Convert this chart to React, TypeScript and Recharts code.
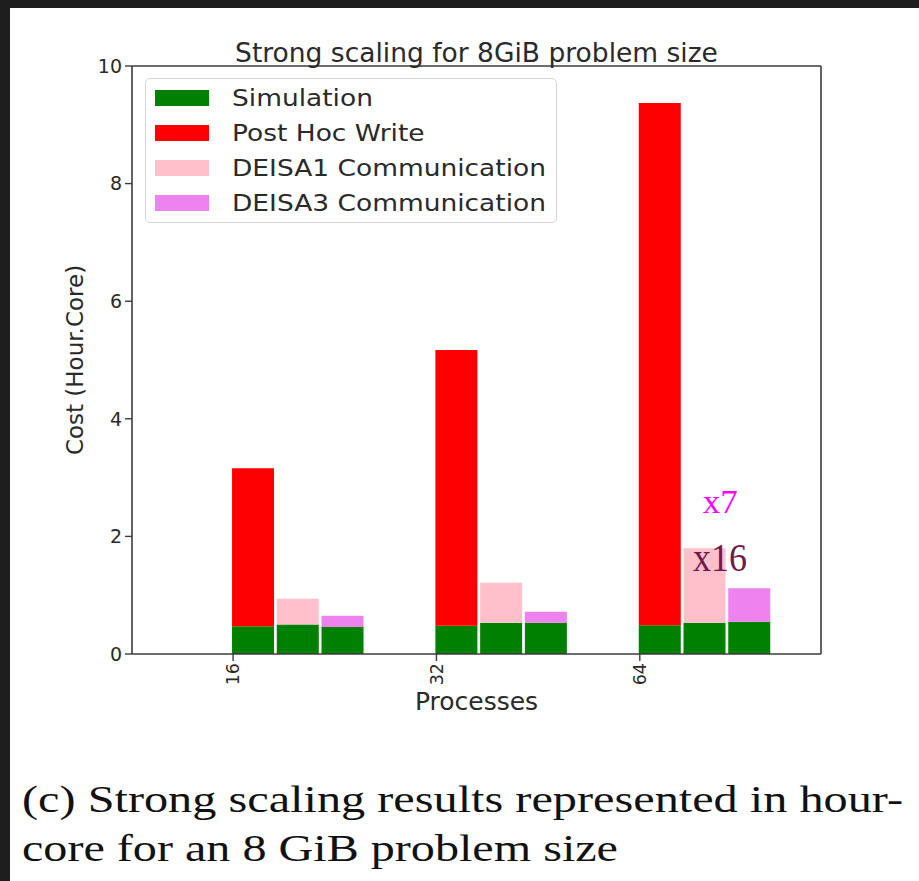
import React from "react";
import {
  BarChart,
  Bar,
  XAxis,
  YAxis,
  Legend,
  ReferenceLine,
  ReferenceDot,
} from "recharts";

// categories (process counts) and the stacked segments of each bar
const processes = ["16", "32", "64"];
const simulationPostHoc = [0.47, 0.48, 0.49];
const postHocWrite = [2.69, 4.69, 8.88];
const simulationDeisa1 = [0.5, 0.53, 0.53];
const deisa1Communication = [0.44, 0.68, 1.27];
const simulationDeisa3 = [0.46, 0.53, 0.55];
const deisa3Communication = [0.19, 0.19, 0.57];
const yTicks = [0, 2, 4, 6, 8, 10];

// hand-written notes over the 64 group
const annotations = [
  { text: "x7", x: 2.31, y: 2.4 },
  { text: "x16", x: 2.262, y: 1.42 },
];

const series = [
  { key: "simulation", name: "Simulation", color: "#008000" },
  { key: "postHoc", name: "Post Hoc Write", color: "#ff0000" },
  { key: "deisa1", name: "DEISA1 Communication", color: "#ffc0cb" },
  { key: "deisa3", name: "DEISA3 Communication", color: "#ee82ee" },
];

const SLOT = 0.22;
const FIRST = 0.1;
const X_DOMAIN = [-0.497, 2.891];

const rows = processes.flatMap((_, g) => [
  { x: g + FIRST, simulation: simulationPostHoc[g], postHoc: postHocWrite[g] },
  { x: g + FIRST + SLOT, simulation: simulationDeisa1[g], deisa1: deisa1Communication[g] },
  { x: g + FIRST + 2 * SLOT, simulation: simulationDeisa3[g], deisa3: deisa3Communication[g] },
]);

const noteStyle: Record<string, { color: string; size: number; len: number }> = {
  x7: { color: "#ff00ff", size: 34, len: 35 },
  x16: { color: "#6e1b4c", size: 41, len: 54 },
};

const FONT = "'DejaVu Sans', sans-serif";
const INK = "#2a2a2a";
const AXIS = "#3c3c3c";

const LegendBox = () => (
  <div
    style={{
      position: "relative",
      width: 412,
      height: 145,
      boxSizing: "border-box",
      border: "1.5px solid #d6d6d6",
      borderRadius: 5,
      background: "rgba(255,255,255,0.85)",
    }}
  >
    {series.map((s, i) => (
      <div key={s.key}>
        <div
          style={{
            position: "absolute",
            left: 9,
            top: 11 + i * 35,
            width: 54,
            height: 16,
            background: s.color,
          }}
        />
        <div
          style={{
            position: "absolute",
            left: 86,
            top: 19 + i * 35 - 14,
            height: 28,
            lineHeight: "28px",
            fontFamily: FONT,
            fontSize: 23,
            color: INK,
            whiteSpace: "nowrap",
            transform: "scaleX(1.15)",
            transformOrigin: "left center",
          }}
        >
          {s.name}
        </div>
      </div>
    ))}
  </div>
);

const XTick = (props: any) => {
  const { x, y, payload } = props;
  const ty = y;
  return (
    <text
      x={x}
      y={ty}
      dy="0.36em"
      transform={`rotate(-90, ${x}, ${ty})`}
      textAnchor="end"
      fontFamily={FONT}
      fontSize={17.5}
      fill={INK}
    >
      {processes[payload.value]}
    </text>
  );
};

export default function App() {
  return (
    <div
      style={{
        position: "absolute",
        left: 0,
        top: 0,
        width: 919,
        height: 881,
        background: "#1e1e1e",
        overflow: "hidden",
      }}
    >
      <div
        style={{
          position: "absolute",
          left: 10,
          top: 8,
          right: 0,
          bottom: 0,
          background: "#ffffff",
        }}
      />
      <div style={{ position: "absolute", left: 0, top: 0 }}>
        <BarChart
          width={919}
          height={740}
          data={rows}
          margin={{ top: 66, right: 98, left: 72, bottom: 0 }}
        >
          <XAxis
            dataKey="x"
            type="number"
            domain={X_DOMAIN}
            ticks={[0, 1, 2]}
            allowDataOverflow
            height={86}
            tickSize={7}
            tick={<XTick />}
            axisLine={{ stroke: AXIS, strokeWidth: 1.6 }}
            tickLine={{ stroke: AXIS, strokeWidth: 1.4 }}
          />
          <YAxis
            type="number"
            domain={[0, 10]}
            ticks={yTicks}
            width={60}
            tickSize={7}
            tickMargin={3}
            tick={{ fontFamily: FONT, fontSize: 19, fill: INK }}
            axisLine={{ stroke: AXIS, strokeWidth: 1.6 }}
            tickLine={{ stroke: AXIS, strokeWidth: 1.4 }}
          />
          <ReferenceLine y={10} stroke={AXIS} strokeWidth={1.6} />
          <ReferenceLine x={X_DOMAIN[1]} stroke={AXIS} strokeWidth={1.6} />
          {series.map((s) => (
            <Bar
              key={s.key}
              dataKey={s.key}
              name={s.name}
              stackId="cost"
              fill={s.color}
              barSize={42}
              isAnimationActive={false}
            />
          ))}
          {annotations.map((a) => (
            <ReferenceDot
              key={a.text}
              x={a.x}
              y={a.y}
              r={0}
              ifOverflow="visible"
              shape={(p: any) => {
                const st = noteStyle[a.text];
                return (
                  <text
                    x={p.cx}
                    y={p.cy}
                    fontFamily="'Liberation Serif', serif"
                    fontSize={st.size}
                    fill={st.color}
                    textLength={st.len}
                    lengthAdjust="spacingAndGlyphs"
                  >
                    {a.text}
                  </text>
                );
              }}
            />
          ))}
          <Legend
            layout="vertical"
            align="center"
            verticalAlign="middle"
            wrapperStyle={{ left: 145, top: 78, width: 412, height: 145 }}
            content={() => <LegendBox />}
          />
        </BarChart>
      </div>
      <svg
        width={919}
        height={881}
        style={{ position: "absolute", left: 0, top: 0, pointerEvents: "none" }}
      >
        <text
          x={476.5}
          y={61.5}
          textAnchor="middle"
          fontFamily={FONT}
          fontSize={26.5}
          fill={INK}
        >
          Strong scaling for 8GiB problem size
        </text>
        <text
          x={75}
          y={360}
          transform="rotate(-90, 75, 360)"
          textAnchor="middle"
          dy="0.36em"
          fontFamily={FONT}
          fontSize={23}
          fill={INK}
        >
          Cost (Hour.Core)
        </text>
        <text
          x={476.5}
          y={710}
          textAnchor="middle"
          fontFamily={FONT}
          fontSize={25}
          fill={INK}
        >
          Processes
        </text>
        <text
          x={22}
          y={812}
          fontFamily="'Liberation Serif', serif"
          fontSize={37}
          fill="#111111"
          textLength={881}
          lengthAdjust="spacingAndGlyphs"
        >
          (c) Strong scaling results represented in hour-
        </text>
        <text
          x={22}
          y={861}
          fontFamily="'Liberation Serif', serif"
          fontSize={37}
          fill="#111111"
          textLength={596}
          lengthAdjust="spacingAndGlyphs"
        >
          core for an 8 GiB problem size
        </text>
      </svg>
    </div>
  );
}
